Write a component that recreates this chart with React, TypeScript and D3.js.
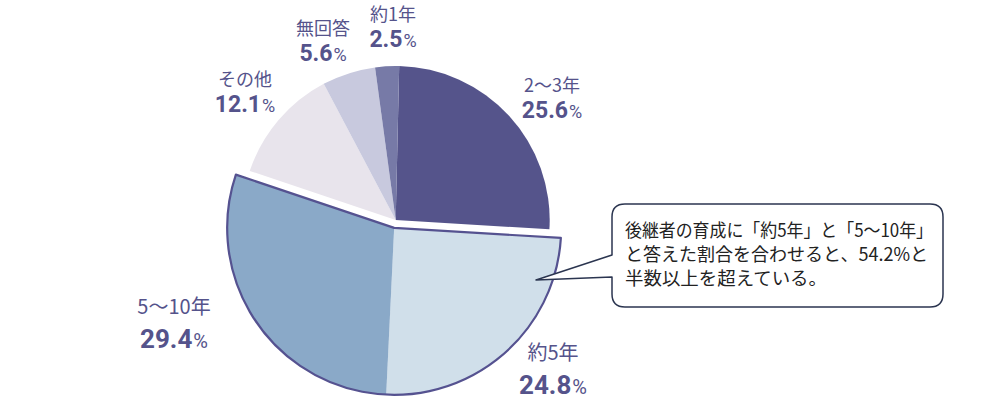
import React from 'react';
import * as d3 from 'd3';

const categories = ['2～3年', '約5年', '5～10年', 'その他', '無回答', '約1年'];
const values = [25.6, 24.8, 29.4, 12.1, 5.6, 2.5];
const colors = ['#55548b', '#d0dfea', '#8aa9c8', '#e8e4ec', '#c8c9de', '#777aa7'];
const exploded = ['約5年', '5～10年'];
const noteLines = ['後継者の育成に「約5年」と「5～10年」', 'と答えた割合を合わせると、54.2%と', '半数以上を超えている。'];
const noteWidths = [308, 303, 202];

// hand-placed label anchors (center x, name baseline)
const labelPos: Record<string, [number, number]> = {
    '2～3年': [552, 92],
    '約5年': [553, 360],
    '5～10年': [174, 314],
    'その他': [245, 86],
    '無回答': [323, 35],
    '約1年': [393, 21],
};

const W = 1000;
const H = 407;
const cx = 395.7;
const cy = 220;
const rMain = 154;
const rExp = 167;
const explodeDist = 8;
const startDeg = 1.3;
const labelColor = '#55538b';

const App: React.FC = () => {
    const data = categories.map((c, i) => ({ name: c, value: values[i], color: colors[i] }));
    const start = (startDeg * Math.PI) / 180;
    const pie = d3.pie<any>().sort(null).value(d => d.value).startAngle(start).endAngle(start + 2 * Math.PI);
    const arcs = pie(data);

    const expArcs = arcs.filter(a => exploded.includes(a.data.name));
    const gStart = d3.min(expArcs, a => a.startAngle) as number;
    const gEnd = d3.max(expArcs, a => a.endAngle) as number;
    const gMid = (gStart + gEnd) / 2;
    const ox = Math.sin(gMid) * explodeDist;
    const oy = -Math.cos(gMid) * explodeDist;

    const arcMain = d3.arc<any>().innerRadius(0).outerRadius(rMain);
    const arcExp = d3.arc<any>().innerRadius(0).outerRadius(rExp);
    const outline = d3.arc<any>().innerRadius(0).outerRadius(rExp)({ startAngle: gStart, endAngle: gEnd });

    // callout box
    const bx0 = 612, bx1 = 943, by0 = 204, by1 = 307, rr = 13;
    const tipX = 536, tipY = 280, j0 = 255, j1 = 277;
    const callout = [
        `M${bx0 + rr},${by0}`,
        `L${bx1 - rr},${by0}`,
        `Q${bx1},${by0} ${bx1},${by0 + rr}`,
        `L${bx1},${by1 - rr}`,
        `Q${bx1},${by1} ${bx1 - rr},${by1}`,
        `L${bx0 + rr},${by1}`,
        `Q${bx0},${by1} ${bx0},${by1 - rr}`,
        `L${bx0},${j1}`,
        `L${tipX},${tipY}`,
        `L${bx0},${j0}`,
        `L${bx0},${by0 + rr}`,
        `Q${bx0},${by0} ${bx0 + rr},${by0}`,
        'Z',
    ].join(' ');

    return (
        <svg width={W} height={H} style={{ position: 'fixed', left: 0, top: 0, background: '#fff' }}>
            <g transform={`translate(${cx},${cy})`}>
                {arcs.filter(a => !exploded.includes(a.data.name)).map(a => (
                    <path key={a.data.name} d={arcMain(a) as string} fill={a.data.color} />
                ))}
            </g>
            <g transform={`translate(${cx + ox},${cy + oy})`}>
                {expArcs.map(a => (
                    <path key={a.data.name} d={arcExp(a) as string} fill={a.data.color} />
                ))}
                <path d={outline as string} fill="none" stroke="#555290" strokeWidth={2.2} strokeLinejoin="round" />
            </g>
            {arcs.map(a => {
                const [x, y] = labelPos[a.data.name];
                const v = a.data.value.toFixed(1);
                const big = a.data.name === '5～10年' || a.data.name === '約5年';
                return (
                    <g key={a.data.name} fill={labelColor} textAnchor="middle">
                        <text x={x} y={y} fontSize={big ? 20 : 18} fontWeight={400}
                            fontFamily="'Noto Sans CJK JP', Roboto, sans-serif">
                            {a.data.name}
                        </text>
                        <text x={x} y={y + (big ? 34 : 25.5)} fontFamily="Roboto, 'Noto Sans', sans-serif">
                            <tspan fontSize={big ? 26 : 23} fontWeight="bold">{v}</tspan>
                            <tspan fontSize={big ? 20 : 18} dx={1}>%</tspan>
                        </text>
                    </g>
                );
            })}
            <path d={callout} fill="#fff" stroke="#2b3550" strokeWidth={1.5} strokeLinejoin="round" />
            {noteLines.map((line, i) => (
                <text key={i} x={625} y={237 + i * 24} fontSize={18} fill="#222"
                    fontFamily="'Noto Sans CJK JP', sans-serif"
                    textLength={noteWidths[i]}
                    lengthAdjust="spacingAndGlyphs">
                    {line}
                </text>
            ))}
        </svg>
    );
};

export default App;
